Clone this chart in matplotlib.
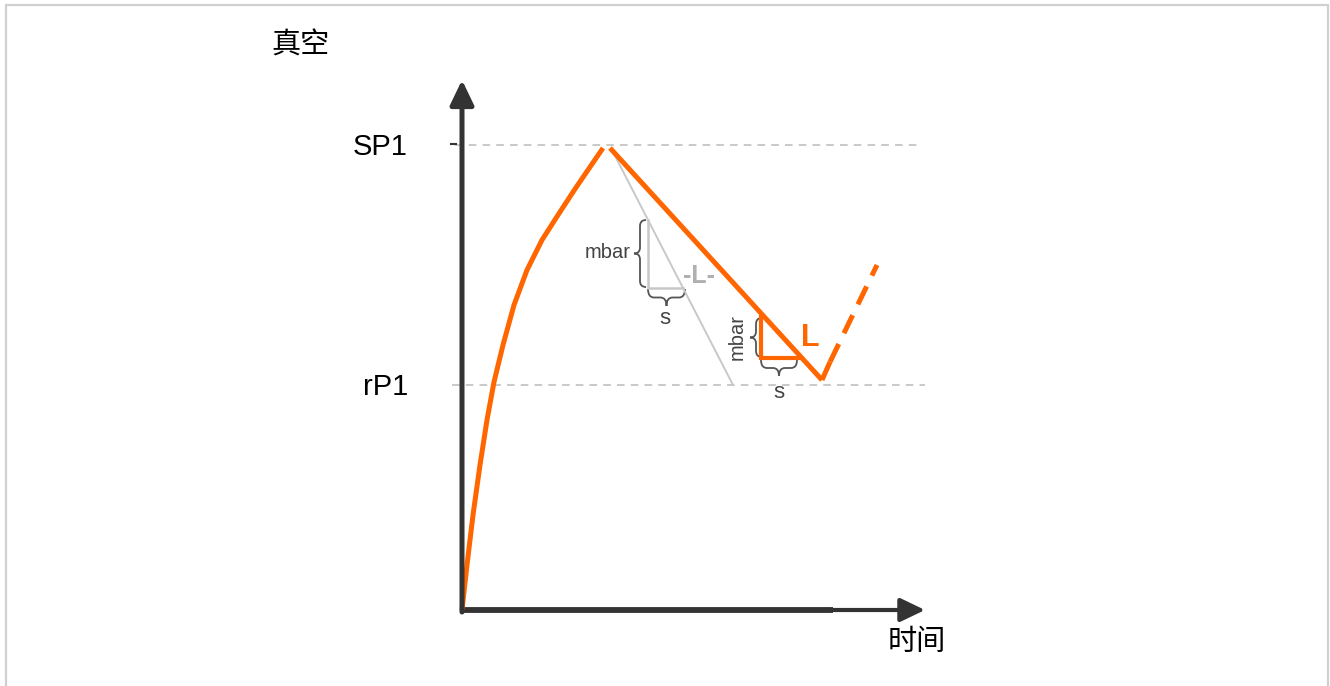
import numpy as np
import matplotlib
matplotlib.use("Agg")
import matplotlib.pyplot as plt
from matplotlib.path import Path
from matplotlib.patches import PathPatch, Rectangle

plt.rcParams['font.family'] = ['Liberation Sans', 'Noto Sans CJK SC', 'DejaVu Sans']

# schematic units: time to the right, vacuum upward (origin at the axes corner)
SP1 = 465
rP1 = 225

# pump-down curve up to set point
rise_t = [0, 5, 11, 18, 25, 32, 41, 52, 65, 80, 96, 113, 128, 141]
rise_v = [0, 45, 95, 145, 190, 228, 265, 305, 340, 370, 395, 421, 443, 462]

# leak-down line from SP1 to rP1
fall_t = [148, 360]
fall_v = [462, 230]

# restart (solid bit then dashed)
restart_t = [360, 368]
restart_v = [230, 248]
dash_t = [368, 415]
dash_v = [248, 345]

# grey reference slope
ref_t = [150, 271]
ref_v = [460, 225]

# grey slope triangle
gtri_t = [186, 186, 221]
gtri_v = [390, 322, 322]

# orange slope triangle
otri_t = [299, 299, 338]
otri_v = [293, 252, 252]

ORANGE = '#ff6600'
AXIS = '#333333'
GREY = '#c8c8c8'

fig = plt.figure(figsize=(13.3, 6.86), dpi=100)
ax = fig.add_axes([0, 0, 1, 1])
ax.set_xlim(-462, 868)
ax.set_ylim(-76, 610)
ax.axis('off')

# outer frame
fig.patches.append(Rectangle((6 / 1330, -0.01), 1322 / 1330, 1 - 5 / 686 + 0.01,
                             transform=fig.transFigure, fill=False,
                             edgecolor='#d0d0d0', lw=1.6))

# dashed levels
ax.plot([-7, 456], [SP1, SP1], color='#bbbbbb', lw=1.1, dashes=(5, 4))
ax.plot([-10, 463], [rP1, rP1], color='#bbbbbb', lw=1.1, dashes=(5, 4))
ax.plot([-11, -6], [SP1 + 1, SP1 + 1], color=AXIS, lw=1.5)

# axes with arrows
head = '-|>,head_length=0.75,head_width=0.36'
ax.annotate('', xy=(0, 530), xytext=(0, -2),
            arrowprops=dict(arrowstyle=head, mutation_scale=20, lw=3.6, color=AXIS,
                            shrinkA=0, shrinkB=0))
ax.plot([-2, 371], [0, 0], color=AXIS, lw=4.2, solid_capstyle='butt')
ax.annotate('', xy=(463, 0), xytext=(365, 0),
            arrowprops=dict(arrowstyle=head, mutation_scale=20, lw=3.0, color=AXIS,
                            shrinkA=0, shrinkB=0))

# grey reference
ax.plot(ref_t, ref_v, color=GREY, lw=1.4)
ax.plot(gtri_t, gtri_v, color=GREY, lw=1.8)

# orange curves
ax.plot(rise_t, rise_v, color=ORANGE, lw=3.6, solid_capstyle='butt', solid_joinstyle='round')
ax.plot(fall_t, fall_v, color=ORANGE, lw=3.6, solid_capstyle='butt')
ax.plot(restart_t, restart_v, color=ORANGE, lw=3.6, solid_capstyle='butt')
ax.plot(dash_t, dash_v, color=ORANGE, lw=3.6, dashes=(4, 2.4))
ax.plot(otri_t, otri_v, color=ORANGE, lw=3.0, solid_joinstyle='miter')


def brace(x, y0, y1, w, vertical=True, color='#555555'):
    # curly brace; ends at x, tip at x - w (vertical) or y - w (horizontal)
    r = min(6, abs(y1 - y0) / 5)
    s = 1 if y1 > y0 else -1
    ym = (y0 + y1) / 2
    h = w / 2
    pts = [(x, y0), (x - h, y0), (x - h, y0 + s * r),
           (x - h, ym - s * r), (x - h, ym), (x - w, ym),
           (x - h, ym), (x - h, ym + s * r),
           (x - h, y1 - s * r), (x - h, y1), (x, y1)]
    codes = [Path.MOVETO, Path.CURVE3, Path.CURVE3,
             Path.LINETO, Path.CURVE3, Path.CURVE3,
             Path.CURVE3, Path.CURVE3,
             Path.LINETO, Path.CURVE3, Path.CURVE3]
    if not vertical:
        pts = [(b, a) for a, b in pts]
    ax.add_patch(PathPatch(Path(pts, codes), fill=False, edgecolor=color, lw=1.3))


brace(184, 390, 323, 12)
brace(321, 186, 223, 17, vertical=False)
brace(300, 292, 253, 12)
brace(250, 299, 335, 16, vertical=False)

# text
ax.text(-82, SP1 - 2, 'SP1', fontsize=21, ha='center', va='center')
ax.text(-54, rP1 - 2, 'rP1', fontsize=21, ha='right', va='center')
ax.text(-162, 564, '真空', fontsize=21, ha='center', va='center',
        family=['Noto Sans CJK SC', 'DejaVu Sans'])
ax.text(455, -32, '时间', fontsize=21, ha='center', va='center',
        family=['Noto Sans CJK SC', 'DejaVu Sans'])
ax.text(146, 358, 'mbar', fontsize=14.5, ha='center', va='center', color='#444444')
ax.text(203, 292, 's', fontsize=16, ha='center', va='center', color='#444444')
ax.text(237, 334, '-L-', fontsize=18, ha='center', va='center', color='#b0b0b0',
        fontweight='bold')
ax.text(275, 273, 'mbar', fontsize=14.5, ha='center', va='center', color='#444444',
        rotation=90)
ax.text(317, 217, 's', fontsize=16, ha='center', va='center', color='#444444')
ax.text(348, 272, 'L', fontsize=22, ha='center', va='center', color=ORANGE,
        fontweight='bold')

fig.savefig('out.png', dpi=100)
